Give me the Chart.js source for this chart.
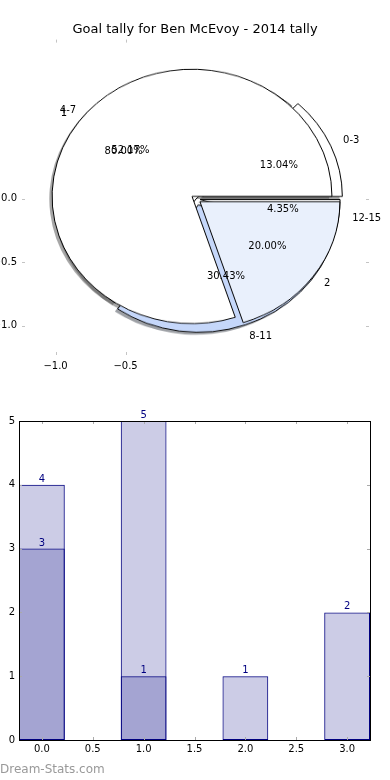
<!DOCTYPE html>
<html>
<head>
<meta charset="utf-8">
<script src="https://cdn.jsdelivr.net/npm/chart.js@4.4.1/dist/chart.umd.min.js"></script>
<style>
  html, body { margin: 0; padding: 0; background: #fff; }
  #wrap { position: relative; width: 390px; height: 780px; overflow: hidden; }
  canvas { position: absolute; left: 0; }
  #pieAxes { top: 0; z-index: 3; }
  #pieBack { z-index: 1; }
  #pieFront { z-index: 2; }
  #bars { top: 380px; }
  #mark { position: absolute; left: 0; top: 762px; font: 12px 'DejaVu Sans', sans-serif; color: #999; }
</style>
</head>
<body>
<div id="wrap">
  <canvas id="pieBack" width="390" height="300"></canvas>
  <canvas id="pieFront" width="390" height="300"></canvas>
  <canvas id="pieAxes" width="390" height="380"></canvas>
  <canvas id="bars" width="390" height="400"></canvas>
  <div id="mark">Dream-Stats.com</div>
</div>
<script>
// goal ranges pie (drawn behind)
var rangeLabels = ['0-3', '4-7', '8-11', '12-15'];
var rangePct = [13.04, 52.17, 30.43, 4.35];
var rangeColors = ['#ffffff', '#ffffff', '#c5d7fa', '#ffffff'];
var rangeExplode = [0.05, 0, 0.05, 0.03];

// goals per game pie (drawn on top of the first one)
var goalLabels = ['1', '2'];
var goalPct = [80.00, 20.00];
var goalColors = ['#ffffff', '#e9f0fc'];
var goalExplode = [0.035, 0.035];

// bar chart
var barX = [0, 1, 2, 3];
var barBack = [4, 5, 1, 2];
var barFront = [3, 1, 0, 0];

var pieXTicks = [-1.0, -0.5];
var pieYTicks = [0.0, -0.5, -1.0];
var barXTicks = [0, 0.5, 1, 1.5, 2, 2.5, 3];
var barYTicks = [0, 1, 2, 3, 4, 5];

Chart.defaults.font.family = "'DejaVu Sans', sans-serif";
Chart.defaults.font.size = 10;
Chart.defaults.color = '#000';
Chart.defaults.animation = false;

function fmt(v) { return (v < 0 ? '\u2212' : '') + Math.abs(v).toFixed(1); }
function fixedTicks(arr) {
  return function (s) { s.ticks = arr.map(function (v) { return {value: v}; }); };
}
function hexRgb(h) {
  return [1, 3, 5].map(function (i) { return parseInt(h.substr(i, 2), 16); });
}

// matplotlib style ticks pointing into the plot
function innerTicks(color, len, frame) {
  return {
    id: 'innerTicks',
    afterDatasetsDraw: function (chart) {
      var ctx = chart.ctx, a = chart.chartArea, xs = chart.scales.x, ys = chart.scales.y;
      ctx.save();
      ctx.strokeStyle = color;
      ctx.lineWidth = 1;
      ctx.beginPath();
      xs.ticks.forEach(function (t) {
        var p = Math.round(xs.getPixelForValue(t.value)) + 0.5;
        ctx.moveTo(p, a.top); ctx.lineTo(p, a.top + len);
        ctx.moveTo(p, a.bottom); ctx.lineTo(p, a.bottom - len);
      });
      ys.ticks.forEach(function (t) {
        var p = Math.round(ys.getPixelForValue(t.value)) + 0.5;
        ctx.moveTo(a.left, p); ctx.lineTo(a.left + len, p);
        ctx.moveTo(a.right, p); ctx.lineTo(a.right - len, p);
      });
      ctx.stroke();
      if (frame) {
        ctx.strokeStyle = '#000';
        ctx.strokeRect(Math.round(a.left) + 0.5, Math.round(a.top) + 0.5, Math.round(a.width), Math.round(a.height));
      }
      ctx.restore();
    }
  };
}

// wedge labels at 1.1 and 0.6 of the radius, like pyplot.pie
var pieLabels = {
  id: 'pieLabels',
  afterDraw: function (chart) {
    var ctx = chart.ctx, xs = chart.scales.x, ys = chart.scales.y;
    ctx.save();
    ctx.font = "10px 'DejaVu Sans'";
    ctx.fillStyle = '#000';
    ctx.textBaseline = 'middle';
    [[rangeLabels, rangePct, rangeExplode], [goalLabels, goalPct, goalExplode]].forEach(function (p) {
      var total = p[1].reduce(function (s, v) { return s + v; }, 0), acc = 0;
      p[1].forEach(function (v, i) {
        var mid = (acc + v / 2) / total * 2 * Math.PI;
        acc += v;
        var c = Math.cos(mid), s = Math.sin(mid), e = p[2][i];
        var lx = (e + 1.1) * c, ly = (e + 1.1) * s;
        ctx.textAlign = lx > 0 ? 'left' : 'right';
        ctx.fillText(p[0][i], xs.getPixelForValue(lx), ys.getPixelForValue(ly));
        ctx.textAlign = 'center';
        ctx.fillText(v.toFixed(2) + '%', xs.getPixelForValue((e + 0.6) * c), ys.getPixelForValue((e + 0.6) * s));
      });
    });
    ctx.restore();
  }
};

var pieAxes = new Chart(document.getElementById('pieAxes'), {
  type: 'scatter',
  data: { datasets: [] },
  options: {
    responsive: false,
    events: [],
    plugins: {
      legend: { display: false },
      tooltip: { enabled: false },
      title: {
        display: true,
        text: 'Goal tally for Ben McEvoy - 2014 tally',
        color: '#000',
        font: { size: 13, weight: 'normal' },
        padding: { top: 22, bottom: 2 }
      }
    },
    scales: {
      x: {
        type: 'linear', min: -1.24, max: 1.24,
        grid: { display: false, drawTicks: false }, border: { display: false },
        afterBuildTicks: fixedTicks(pieXTicks),
        afterFit: function (s) { s.height = 25; },
        ticks: { padding: 5, callback: fmt, autoSkip: false, maxRotation: 0 }
      },
      y: {
        type: 'linear', min: -1.23, max: 1.25,
        grid: { display: false, drawTicks: false }, border: { display: false },
        afterBuildTicks: fixedTicks(pieYTicks),
        afterFit: function (s) { s.width = 22; },
        ticks: { padding: 5, callback: fmt, autoSkip: false }
      },
      // empty right axis, only keeps the plot box (and the title) centred
      y2: {
        type: 'linear', position: 'right', min: -1.23, max: 1.25,
        grid: { display: false, drawTicks: false }, border: { display: false },
        ticks: { display: false },
        afterFit: function (s) { s.width = 21; }
      }
    }
  },
  plugins: [innerTicks('#c4c4c4', 3, false), pieLabels]
});

var xs = pieAxes.scales.x, ys = pieAxes.scales.y;
var R = xs.getPixelForValue(1) - xs.getPixelForValue(0);
var Ry = ys.getPixelForValue(0) - ys.getPixelForValue(1);
var cx0 = xs.getPixelForValue(0), cy0 = ys.getPixelForValue(0);

['pieBack', 'pieFront'].forEach(function (id) {
  var c = document.getElementById(id);
  c.style.left = (cx0 - 195) + 'px';
  c.style.top = (cy0 - 150) + 'px';
  c.style.transform = 'scaleY(' + (Ry / R) + ')';
});

// pyplot explode: shift every wedge along its bisector
function explodePlugin(explode) {
  return {
    id: 'explode',
    afterDatasetsUpdate: function (chart) {
      var arcs = chart.getDatasetMeta(0).data, n = arcs.length;
      arcs.forEach(function (arc, i) {
        var d = explode[n - 1 - i] * R, mid = (arc.startAngle + arc.endAngle) / 2;
        arc.x += Math.cos(mid) * d;
        arc.y += Math.sin(mid) * d;
      });
    }
  };
}

// pyplot goes counter-clockwise from 3 o'clock, chart.js clockwise: feed slices reversed
function pieChart(id, labels, pct, colors, explode, extra) {
  return new Chart(document.getElementById(id), {
    type: 'pie',
    data: {
      labels: labels.slice().reverse(),
      datasets: [{
        data: pct.slice().reverse(),
        backgroundColor: colors.slice().reverse(),
        borderColor: '#000',
        borderWidth: 1,
        radius: R,
        rotation: 90
      }]
    },
    options: {
      responsive: false,
      events: [],
      layout: { padding: 0 },
      plugins: { legend: { display: false }, tooltip: { enabled: false } }
    },
    plugins: [explodePlugin(explode)].concat(extra || [])
  });
}

var frontPie = pieChart('pieFront', goalLabels, goalPct, goalColors, goalExplode);

// all shadows sit below all wedges of both pies
var shadows = {
  id: 'shadows',
  beforeDatasetsDraw: function (chart) {
    var ctx = chart.ctx, d = 0.02 * R;
    ctx.save();
    ctx.translate(-d, d);
    [chart, frontPie].forEach(function (c) {
      var cols = c.data.datasets[0].backgroundColor;
      c.getDatasetMeta(0).data.forEach(function (arc, i) {
        var rgb = hexRgb(cols[i]).map(function (v) { return Math.round(v * 0.3); });
        ctx.fillStyle = 'rgba(' + rgb.join(',') + ',0.5)';
        ctx.beginPath();
        ctx.moveTo(arc.x, arc.y);
        ctx.arc(arc.x, arc.y, arc.outerRadius, arc.startAngle, arc.endAngle);
        ctx.closePath();
        ctx.fill();
      });
    });
    ctx.restore();
  }
};

var backPie = pieChart('pieBack', rangeLabels, rangePct, rangeColors, rangeExplode, [shadows]);

var valueLabels = {
  id: 'valueLabels',
  afterDatasetsDraw: function (chart) {
    var ctx = chart.ctx;
    ctx.save();
    ctx.font = "10px 'DejaVu Sans'";
    ctx.fillStyle = '#000080';
    ctx.textAlign = 'center';
    ctx.textBaseline = 'alphabetic';
    chart.data.datasets.forEach(function (ds, di) {
      chart.getDatasetMeta(di).data.forEach(function (bar, i) {
        var v = ds.data[i].y;
        if (v > 0) ctx.fillText(String(v), bar.x, bar.y - 3);
      });
    });
    ctx.restore();
  }
};

function points(vals) {
  return vals.map(function (v, i) { return {x: barX[i], y: v}; });
}

// chart.js measures bar room against the 0.5 tick spacing too, so 0.9 here = 0.45 data units
var barStyle = {
  backgroundColor: 'rgba(0,0,128,0.2)', borderColor: '#000080', borderWidth: 1,
  borderSkipped: false, grouped: false, barPercentage: 0.9, categoryPercentage: 1
};

var bars = new Chart(document.getElementById('bars'), {
  type: 'bar',
  data: {
    datasets: [
      Object.assign({ data: points(barFront) }, barStyle),
      Object.assign({ data: points(barBack) }, barStyle)
    ]
  },
  options: {
    responsive: false,
    events: [],
    layout: { padding: { top: 41, right: 20 } },
    plugins: { legend: { display: false }, tooltip: { enabled: false } },
    scales: {
      x: {
        type: 'linear', min: -0.225, max: 3.225, offset: false,
        grid: { display: false, drawTicks: false }, border: { display: false },
        afterBuildTicks: fixedTicks(barXTicks),
        afterFit: function (s) { s.height = 40; },
        ticks: { padding: 3, autoSkip: false, maxRotation: 0, callback: function (v) { return v.toFixed(1); } }
      },
      y: {
        min: 0, max: 5,
        grid: { display: false, drawTicks: false }, border: { display: false },
        afterBuildTicks: fixedTicks(barYTicks),
        afterFit: function (s) { s.width = 19; },
        ticks: { padding: 4, callback: function (v) { return String(v); } }
      }
    }
  },
  plugins: [innerTicks('#aaaaaa', 3, true), valueLabels]
});
</script>
</body>
</html>
